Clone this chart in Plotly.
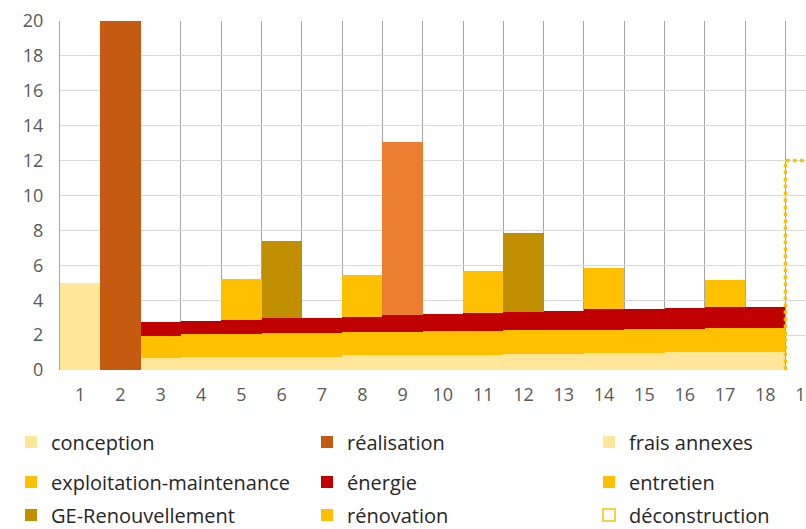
import plotly.graph_objects as go

# Lifecycle cost per year, stacked by cost item
years = list(range(1, 20))
tick_labels = [str(y) for y in years]

conception = [5.0] + [None] * 18
realisation = [None, 20.0] + [None] * 17
frais_annexes = [None, None, 0.67, 0.76, 0.76, 0.76, 0.76, 0.86, 0.86, 0.86, 0.86,
                 0.92, 0.92, 0.96, 0.96, 1.01, 1.01, 1.01, None]
exploitation_maintenance = [None, None, 1.30, 1.29, 1.29, 1.34, 1.34, 1.30, 1.30, 1.38, 1.38,
                            1.38, 1.38, 1.34, 1.39, 1.34, 1.42, 1.42, None]
energie = [None, None, 0.77, 0.78, 0.82, 0.87, 0.87, 0.86, 1.00, 0.97, 1.01,
           1.05, 1.09, 1.18, 1.13, 1.19, 1.17, 1.20, None]
entretien = [None, None, None, None, 2.37, None, None, 2.43, None, None, 2.45,
             None, None, 2.39, None, None, 1.55, None, None]
ge_renouvellement = [None, None, None, None, None, 4.43, None, None, None, None, None,
                     4.50, None, None, None, None, None, None, None]
renovation = [None, None, None, None, None, None, None, None, 9.89, None, None,
              None, None, None, None, None, None, None, None]
deconstruction = [None] * 18 + [12.0]

LIGHT = "#FFE699"
YELLOW = "#FFC000"
renovation_colors = [YELLOW] * 8 + ["#ED7D31"] + [YELLOW] * 10

series = [
    ("conception", conception, LIGHT),
    ("réalisation", realisation, "#C55A11"),
    ("frais annexes", frais_annexes, LIGHT),
    ("exploitation-maintenance", exploitation_maintenance, YELLOW),
    ("énergie", energie, "#C00000"),
    ("entretien", entretien, YELLOW),
    ("GE-Renouvellement", ge_renouvellement, "#BF8F00"),
    ("rénovation", renovation, renovation_colors),
]

FONT = "Open Sans"
W, H = 806, 529

# legend grid (3 columns x 3 rows), one legend box per entry
col_text_x = [52, 348, 630]
row_y = [442, 482, 515]

fig = go.Figure()
legend_ids = []
for i in range(9):
    legend_ids.append("legend" if i == 0 else f"legend{i + 1}")

for i, (name, vals, color) in enumerate(series):
    fig.add_trace(go.Bar(
        x=years, y=vals, name=name,
        marker=dict(color=color, line=dict(width=0)),
        legend=legend_ids[i],
    ))

# déconstruction: dotted outline around the year-19 bar
bar_w = 1.0
dx, dy = [], []
for x, v in zip(years, deconstruction):
    if v is not None:
        dx += [x - bar_w / 2, x - bar_w / 2, x + bar_w / 2, x + bar_w / 2]
        dy += [0, v, v, 0]
fig.add_trace(go.Scatter(
    x=dx, y=dy, mode="lines", showlegend=False, hoverinfo="skip",
    line=dict(color=YELLOW, width=3.5, dash="dot"),
))
fig.add_trace(go.Bar(
    x=[None], y=[None], name="déconstruction",
    marker=dict(color="rgba(0,0,0,0)", line=dict(color=YELLOW, width=1.5)),
    legend=legend_ids[8],
))

layout_legends = {}
for i, lid in enumerate(legend_ids):
    r, c = divmod(i, 3)
    layout_legends[lid] = dict(
        x=(col_text_x[c] - 41) / W, xref="container", xanchor="left",
        y=1 - row_y[r] / H, yref="container", yanchor="middle",
        font=dict(family=FONT, size=20, color="#262626"),
        bgcolor="rgba(0,0,0,0)", borderwidth=0,
    )

fig.update_layout(
    width=W, height=H,
    margin=dict(l=60, r=0, t=21, b=159, autoexpand=False),
    barmode="stack", bargap=0,
    plot_bgcolor="white", paper_bgcolor="white",
    showlegend=True,
    **layout_legends,
    xaxis=dict(
        range=[0.5, 19.01],
        tickmode="array", tickvals=years, ticktext=tick_labels,
        showgrid=False, zeroline=False, ticks="",
        ticklabelstandoff=12, tickangle=0, ticklabeloverflow="allow",
        tickfont=dict(family=FONT, size=18, color="#595959"),
        minor=dict(tickmode="array", tickvals=[y + 0.5 for y in years[:-1]],
                   showgrid=True, gridcolor="#A6A6A6", gridwidth=1, ticks=""),
    ),
    yaxis=dict(
        range=[0, 20], dtick=2, tick0=0,
        showgrid=True, gridcolor="#D9D9D9", gridwidth=1,
        zeroline=False, showline=True, linecolor="#A6A6A6", linewidth=1,
        ticks="", ticklabelstandoff=12,
        tickfont=dict(family=FONT, size=18, color="#595959"),
    ),
)

fig.write_html("out.html")
